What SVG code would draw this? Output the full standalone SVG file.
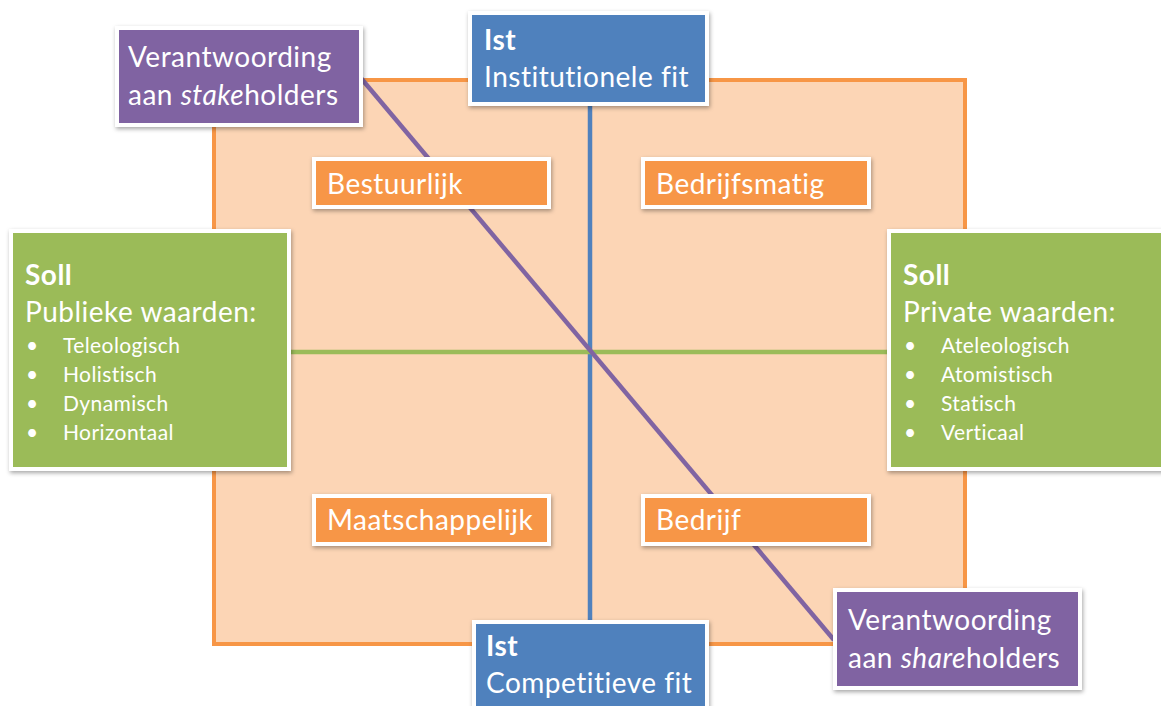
<svg xmlns="http://www.w3.org/2000/svg" width="1161" height="706" viewBox="0 0 1161 706">
  <defs>
    <filter id="shadow" x="-10%" y="-10%" width="125%" height="130%">
      <feDropShadow dx="1" dy="2" stdDeviation="2" flood-color="#000" flood-opacity="0.35"/>
    </filter>
    <style>
      .box { stroke: #ffffff; stroke-width: 4; filter: url(#shadow); }
      .purple { fill: #8064a2; }
      .blue { fill: #4f81bd; }
      .green { fill: #9bbb59; }
      .orange { fill: #f79646; }
      text { font-family: Lato, "Liberation Sans", sans-serif; fill: #ffffff; }
      .big { font-size: 28px; letter-spacing: 0.5px; }
      .lbl { font-size: 28px; letter-spacing: 0.5px; }
      .small { font-size: 21px; letter-spacing: 0.4px; }
      .bold { font-weight: bold; }
      .axis { fill: none; stroke-width: 4.5; }
    </style>
  </defs>
  <rect width="1161" height="706" fill="#ffffff"/>

  <!-- quadrant field -->
  <rect id="field" x="214" y="80" width="751" height="564" fill="#fcd5b5" stroke="#f79646" stroke-width="4"/>

  <g id="connectors">
    <line class="axis" x1="590" y1="105" x2="590" y2="622" stroke="#4f81bd"/>
    <line class="axis" x1="289" y1="352" x2="889" y2="352" stroke="#9bbb59"/>
    <line class="axis" x1="360" y1="77" x2="834" y2="640" stroke="#8064a2"/>
  </g>

  <g id="stakeholders">
    <rect class="box purple" x="117" y="28" width="244" height="97"/>
    <text class="big" x="128" y="67">Verantwoording</text>
    <text class="big" x="128" y="105">aan <tspan font-style="italic">stake</tspan>holders</text>
  </g>

  <g id="ist-institutioneel">
    <rect class="box blue" x="470" y="13" width="237" height="91"/>
    <text class="big bold" x="484" y="50">Ist</text>
    <text class="big" x="484" y="87">Institutionele fit</text>
  </g>

  <g id="soll-publiek">
    <rect class="box green" x="11" y="231" width="278" height="238"/>
    <text class="big bold" x="25" y="285">Soll</text>
    <text class="big" x="25" y="322">Publieke waarden:</text>
    <g class="small">
      <text x="26" y="353">•</text><text x="63" y="353">Teleologisch</text>
      <text x="26" y="382">•</text><text x="63" y="382">Holistisch</text>
      <text x="26" y="411">•</text><text x="63" y="411">Dynamisch</text>
      <text x="26" y="440">•</text><text x="63" y="440">Horizontaal</text>
    </g>
  </g>

  <g id="soll-privaat">
    <rect class="box green" x="889" y="231" width="280" height="238"/>
    <text class="big bold" x="903" y="285">Soll</text>
    <text class="big" x="903" y="322">Private waarden:</text>
    <g class="small">
      <text x="904" y="353">•</text><text x="941" y="353">Ateleologisch</text>
      <text x="904" y="382">•</text><text x="941" y="382">Atomistisch</text>
      <text x="904" y="411">•</text><text x="941" y="411">Statisch</text>
      <text x="904" y="440">•</text><text x="941" y="440">Verticaal</text>
    </g>
  </g>

  <g id="bestuurlijk">
    <rect class="box orange" x="314" y="159" width="235" height="48"/>
    <text class="lbl" x="327" y="194">Bestuurlijk</text>
  </g>

  <g id="bedrijfsmatig">
    <rect class="box orange" x="643" y="159" width="226" height="48"/>
    <text class="lbl" x="656" y="194">Bedrijfsmatig</text>
  </g>

  <g id="maatschappelijk">
    <rect class="box orange" x="314" y="496" width="235" height="48"/>
    <text class="lbl" x="327" y="530">Maatschappelijk</text>
  </g>

  <g id="bedrijf">
    <rect class="box orange" x="643" y="496" width="226" height="48"/>
    <text class="lbl" x="656" y="530">Bedrijf</text>
  </g>

  <g id="ist-competitief">
    <rect class="box blue" x="474" y="622" width="233" height="100"/>
    <text class="big bold" x="486" y="656">Ist</text>
    <text class="big" x="486" y="693">Competitieve fit</text>
  </g>

  <g id="shareholders">
    <rect class="box purple" x="835" y="590" width="245" height="98"/>
    <text class="big" x="848" y="630">Verantwoording</text>
    <text class="big" x="848" y="668">aan <tspan font-style="italic">share</tspan>holders</text>
  </g>
</svg>
